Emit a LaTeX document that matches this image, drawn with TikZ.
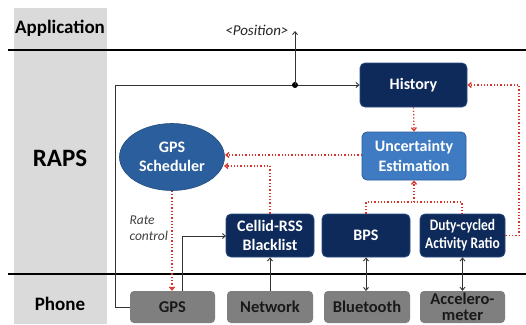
\documentclass[tikz,border=0pt]{standalone}
\usepackage{fontspec}
\setmainfont{Carlito}
\newfontfamily\narrowfont[FakeStretch=0.84]{Carlito}
\usetikzlibrary{shapes.geometric,arrows.meta}
\definecolor{navy}{HTML}{0E2A5A}
\definecolor{navyedge}{HTML}{2A4C80}
\definecolor{midblue}{HTML}{3F7BC2}
\definecolor{midedge}{HTML}{2A5C9E}
\definecolor{ellblue}{HTML}{2B5E9C}
\definecolor{phonegray}{HTML}{7F7F7F}
\definecolor{colgray}{HTML}{DADADA}
\definecolor{ctlred}{HTML}{D9342B}
\tikzset{
  layer/.style={font=\bfseries\fontsize{19}{21}\selectfont, text=black},
  darkbox/.style={draw=navyedge, fill=navy, rounded corners=5pt, text=white,
    font=\bfseries\fontsize{16}{19}\selectfont, align=center, inner sep=0pt, line width=0.8pt},
  lightbox/.style={draw=midedge, fill=midblue, rounded corners=5pt, text=white,
    font=\bfseries\fontsize{16}{20}\selectfont, align=center, inner sep=0pt, line width=0.8pt},
  hwbox/.style={draw=none, fill=phonegray, rounded corners=4pt, text=black!90,
    font=\bfseries\fontsize{16.5}{16}\selectfont, align=center, inner sep=0pt},
  datapath/.style={draw=black!80, line width=0.9pt, -{Straight Barb[length=3pt,width=5pt]}},
  ctlpath/.style={draw=ctlred, line width=1.3pt, dotted, -{Straight Barb[length=3pt,width=5pt]}},
  sep/.style={draw=black, line width=2.2pt},
  note/.style={font=\itshape\fontsize{13.5}{16}\selectfont, text=black!75, align=left},
}
\begin{document}
\begin{tikzpicture}[x=1pt,y=-1pt]
\useasboundingbox (0,0) rectangle (526,324);
\fill[white] (0,0) rectangle (526,324);

% layer column and separators
\fill[colgray] (14,8) rectangle (107,324);
\draw[sep] (8,50) -- (526,50);
\draw[sep] (8,274) -- (526,274);
\node[layer] (app) at (60,28) {Application};
\node[layer, font=\bfseries\fontsize{25}{27}\selectfont] (raps) at (60,158) {RAPS};
\node[layer] (phone) at (60,304) {Phone};

% RAPS components
\node[darkbox, minimum width=107pt, minimum height=44pt] (hist) at (413.5,85) {History};
\node[lightbox, minimum width=104pt, minimum height=48pt] (unc) at (414,156) {Uncertainty\\Estimation};
\node[ellipse, fill=ellblue, draw=ellblue!80!black, line width=0.6pt, minimum width=105pt, minimum height=67pt,
  inner sep=0pt, text=white, font=\bfseries\fontsize{16}{19}\selectfont, align=center] (sched) at (172,157) {GPS\\Scheduler};
\node[darkbox, minimum width=88pt, minimum height=43pt] (cell) at (270,235.5) {Cellid-RSS\\Blacklist};
\node[darkbox, minimum width=88pt, minimum height=43pt] (bps) at (366,235.5) {BPS};
\node[darkbox, minimum width=85pt, minimum height=43pt,
  font=\narrowfont\bfseries\fontsize{16}{18}\selectfont] (duty) at (462.5,235.5) {Duty-cycled\\Activity Ratio};

% phone sensors
\node[hwbox, minimum width=85pt, minimum height=32pt] (gps) at (172.5,307) {GPS};
\node[hwbox, minimum width=86pt, minimum height=32pt] (net) at (270,307) {Network};
\node[hwbox, minimum width=86pt, minimum height=32pt] (bt) at (367,307) {Bluetooth};
\node[hwbox, minimum width=85pt, minimum height=32pt] (acc) at (462.5,307) {Accelero-\\meter};

% bend points of the connectors
\coordinate (junc) at (295,85);
\coordinate (pos) at (295,31);
\coordinate (gpsout) at (182,291);
\coordinate (cellin) at (226,236);
\coordinate (btout) at (366,291);
\coordinate (uncl) at (362,155);
\coordinate (schedr1) at (225,155);
\coordinate (schedr2) at (224,166);
\coordinate (merge) at (414,202);

% position data flow
\draw[datapath] (gps.west) -- (115,307) -- (115,85) -- (hist.west);
\fill[black] (junc) circle (3pt);
\draw[datapath] (junc) -- (pos);
\node[note, anchor=east, text=black!85, font=\itshape\fontsize{15}{16}\selectfont] (posl) at (292,30) {<Position>};

\draw[datapath] (gpsout) -- (182,236) -- (cellin);
\draw[datapath] (net.north) -- (cell.south);
\draw[datapath, {Straight Barb[length=3pt,width=5pt]}-{Straight Barb[length=3pt,width=5pt]}] (btout) -- (bps.south);
\draw[datapath, {Straight Barb[length=3pt,width=5pt]}-{Straight Barb[length=3pt,width=5pt]}] (acc.north) -- (duty.south);

% control flow
\draw[ctlpath] (sched.south) -- (gps.north -| sched.south);
\node[note, anchor=west] (rate) at (126,228) {Rate\\control};
\draw[ctlpath] (hist.south) -- (unc.north);
\draw[ctlpath] (uncl) -- (schedr1);
\draw[ctlpath] (cell.north) -- (270,166) -- (schedr2);
\draw[ctlpath, -] (bps.north) -- (366,202) -- (462,202) -- (462,214);
\draw[ctlpath] (merge) -- (unc.south);
\draw[ctlpath] (duty.east) -- (519,235.5) -- (519,85) -- (hist.east);
\end{tikzpicture}
\end{document}
